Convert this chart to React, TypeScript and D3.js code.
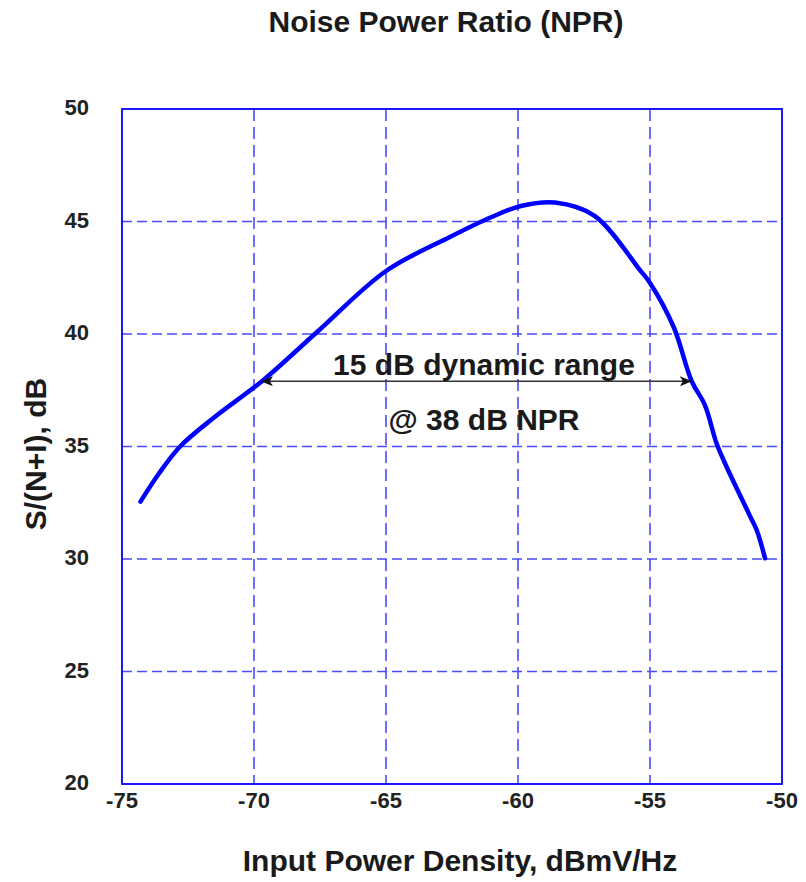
import React from 'react';
import { scaleLinear, line, curveCatmullRom } from 'd3';

// curve
const inputDensity = [-74.3, -73.6, -72.8, -71.5, -69.7, -67.6, -65.0, -62.6, -61.0, -59.85, -58.6, -57.1, -55.38, -55.0, -54.1, -53.42, -52.92, -52.48, -52.1, -51.2, -50.96, -50.64];
const npr = [32.55, 33.8, 35.0, 36.3, 37.9, 40.1, 42.8, 44.3, 45.2, 45.7, 45.84, 45.25, 42.84, 42.27, 40.3, 37.9, 36.84, 35.14, 34.1, 31.88, 31.29, 30.03];

const xTicks = [-75, -70, -65, -60, -55, -50];
const yTicks = [20, 25, 30, 35, 40, 45, 50];

// dynamic range arrow
const rangeStart = -69.7;
const rangeEnd = -53.45;
const rangeLevel = 37.9;

const W = 806;
const H = 882;
const left = 122;
const right = 782;
const top = 109;
const bottom = 784;

const App = () => {
    const x = scaleLinear().domain([-75, -50]).range([left, right]);
    const y = scaleLinear().domain([20, 50]).range([bottom, top]);

    const points: [number, number][] = inputDensity.map((d, i) => [d, npr[i]]);
    const path = line<[number, number]>()
        .x(d => x(d[0]))
        .y(d => y(d[1]))
        .curve(curveCatmullRom.alpha(0.5))(points);

    const font = '"Liberation Sans", Arial, sans-serif';
    const blue = '#0000ff';
    const grid = '#4a4aff';

    return (
        <svg width={W} height={H} style={{ position: 'absolute', left: 0, top: 0 }} fontFamily={font}>
            <defs>
                <marker id="arr" viewBox="0 0 12 10" refX="11" refY="5" markerWidth="12" markerHeight="10" markerUnits="userSpaceOnUse" orient="auto-start-reverse">
                    <path d="M0,0 L12,5 L0,10 L3,5 Z" fill="#111" />
                </marker>
            </defs>
            <rect width={W} height={H} fill="#fff" />

            <text x={446} y={32} textAnchor="middle" fontSize={30} fontWeight="bold" fill="#1a1a1a">Noise Power Ratio (NPR)</text>

            {/* grid */}
            {xTicks.slice(1, -1).map(t => (
                <line key={'gx' + t} x1={x(t)} x2={x(t)} y1={top} y2={bottom} stroke={grid} strokeWidth={1.6} strokeDasharray="12,6" />
            ))}
            {yTicks.slice(1, -1).map(t => (
                <line key={'gy' + t} x1={left} x2={right} y1={y(t)} y2={y(t)} stroke={grid} strokeWidth={1.6} strokeDasharray="10,5" />
            ))}
            <rect x={left} y={top} width={right - left} height={bottom - top} fill="none" stroke={blue} strokeWidth={1.8} />

            {/* tick labels */}
            {xTicks.map(t => (
                <text key={'tx' + t} x={x(t)} y={808} textAnchor="middle" fontSize={22} fontWeight="bold" fill="#222">{t}</text>
            ))}
            {yTicks.map(t => (
                <text key={'ty' + t} x={89} y={y(t) + 6} textAnchor="end" fontSize={22} fontWeight="bold" fill="#222">{t}</text>
            ))}

            <path d={path || ''} fill="none" stroke={blue} strokeWidth={4.5} strokeLinecap="round" strokeLinejoin="round" />

            {/* annotation */}
            <line x1={x(rangeStart)} x2={x(rangeEnd)} y1={y(rangeLevel)} y2={y(rangeLevel)} stroke="#333" strokeWidth={1.6}
                markerStart="url(#arr)" markerEnd="url(#arr)" />
            <text x={484} y={375} textAnchor="middle" fontSize={30} fontWeight="bold" fill="#1a1a1a">15 dB dynamic range</text>
            <text x={484} y={430} textAnchor="middle" fontSize={30} fontWeight="bold" fill="#1a1a1a">@ 38 dB NPR</text>

            <text x={460} y={871} textAnchor="middle" fontSize={30} fontWeight="bold" fill="#1a1a1a">Input Power Density, dBmV/Hz</text>
            <text transform={`translate(46,454) rotate(-90)`} textAnchor="middle" fontSize={30} fontWeight="bold" fill="#1a1a1a">S/(N+I), dB</text>
        </svg>
    );
};

export default App;
